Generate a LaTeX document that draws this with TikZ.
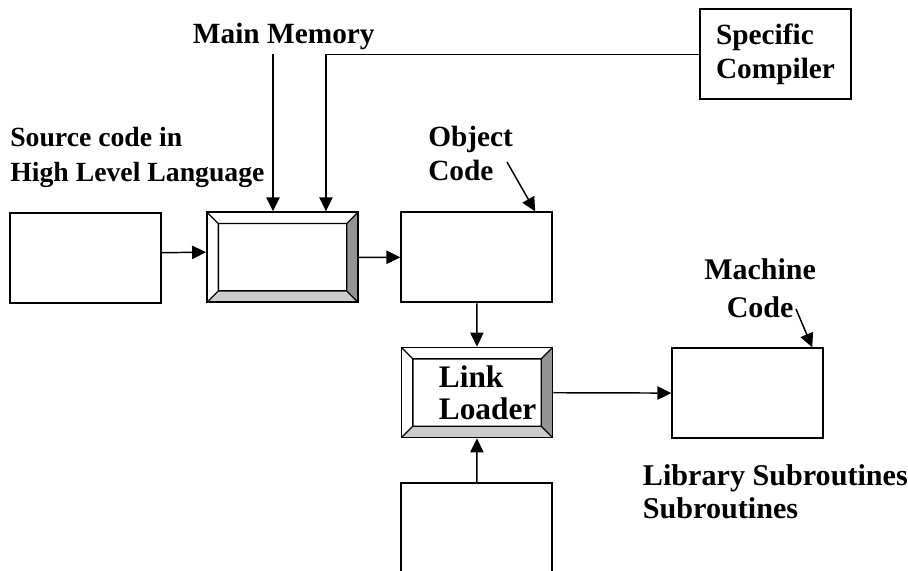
\documentclass[tikz,border=0pt]{standalone}
\usepackage{fontspec}
\setmainfont{Liberation Serif}
\usetikzlibrary{arrows.meta, calc}

\begin{document}
\begin{tikzpicture}[
    x=0.75pt, y=-0.75pt,
    box/.style={draw, line width=1.4pt, minimum width=113.25pt, minimum height=67.5pt, inner sep=0pt, align=left, font=\bfseries\fontsize{22}{25}\selectfont},
    bevelbox/.style={box, path picture={
        \path (path picture bounding box.north west) coordinate (bvA)
              (path picture bounding box.north east) coordinate (bvB)
              (path picture bounding box.south east) coordinate (bvC)
              (path picture bounding box.south west) coordinate (bvD);
        \path ($(bvA)+(8.5pt,-8.5pt)$) coordinate (bva)
              ($(bvB)+(-8.5pt,-8.5pt)$) coordinate (bvb)
              ($(bvC)+(-8.5pt,8.5pt)$) coordinate (bvc)
              ($(bvD)+(8.5pt,8.5pt)$) coordinate (bvd);
        \fill[black!20] (bvD) -- (bvC) -- (bvc) -- (bvd) -- cycle;
        \fill[black!42] (bvB) -- (bvC) -- (bvc) -- (bvb) -- cycle;
        \draw[line width=1pt] (bva) rectangle (bvc) (bvA) -- (bva) (bvB) -- (bvb) (bvC) -- (bvc) (bvD) -- (bvd);
    }},
    lbl/.style={inner sep=0pt, align=left, font=\bfseries\fontsize{22}{25.5}\selectfont},
    arr/.style={-{Triangle[length=10.5pt, width=10pt]}, line width=1.1pt}
]
    \useasboundingbox (0,0) rectangle (908,571);
    \clip (0,0) rectangle (908,571);

    % Boxes
    \node[box] (src) at (85.3,257.7) {};
    \node[bevelbox] (comp) at (282.5,257.2) {};
    \node[box] (obj) at (476.8,257.4) {};
    \node[bevelbox, font=\bfseries\fontsize{23.5}{24}\selectfont] (link) at (477,392.5) {\hspace*{16pt}Link\\\hspace*{16pt}Loader};
    \node[box] (mach) at (747.8,393.3) {};
    \node[box] (lib) at (476.8,528.3) {};
    \node[box, font=\bfseries\fontsize{22}{25.5}\selectfont] (spec) at (775.5,54.3) {Specific\\Compiler};

    % Labels
    \node[lbl, anchor=base west] (mem) at (192.7,43.3) {Main Memory};
    \node[lbl, anchor=base west, font=\bfseries\fontsize{20.8}{26.25}\selectfont] (srclbl) at (10,181) {Source code in\\High Level Language};
    \node[lbl, anchor=base west] (objlbl) at (428,180) {Object\\Code};
    \node[lbl, anchor=base west, align=center, font=\bfseries\fontsize{22.5}{28.5}\selectfont] (machlbl) at (704,317.7) {Machine\\Code};
    \node[lbl, anchor=base west, font=\bfseries\fontsize{22.6}{24.5}\selectfont] (liblbl) at (642.7,518) {Library Subroutines\\Subroutines};

    \coordinate (memtop) at (273,54);
    \coordinate (objtail) at (507,162);
    \coordinate (machtail) at (796,309);

    % Connectors
    \draw[arr] ([yshift=3.75pt]src.east) -- ([yshift=3.75pt]comp.west);
    \draw[arr] (memtop) -- (memtop |- comp.north);
    \draw[arr] (spec.west) -| ([xshift=32.6pt]comp.north);
    \draw[arr] (comp) -- (obj);
    \draw[arr] (objtail) -- ([xshift=-13.5pt]obj.north east);
    \draw[arr] (obj) -- (link);
    \draw[arr] (lib) -- (link);
    \draw[arr] (link) -- (mach);
    \draw[arr] (machtail) -- ([xshift=-9pt]mach.north east);
\end{tikzpicture}
\end{document}
